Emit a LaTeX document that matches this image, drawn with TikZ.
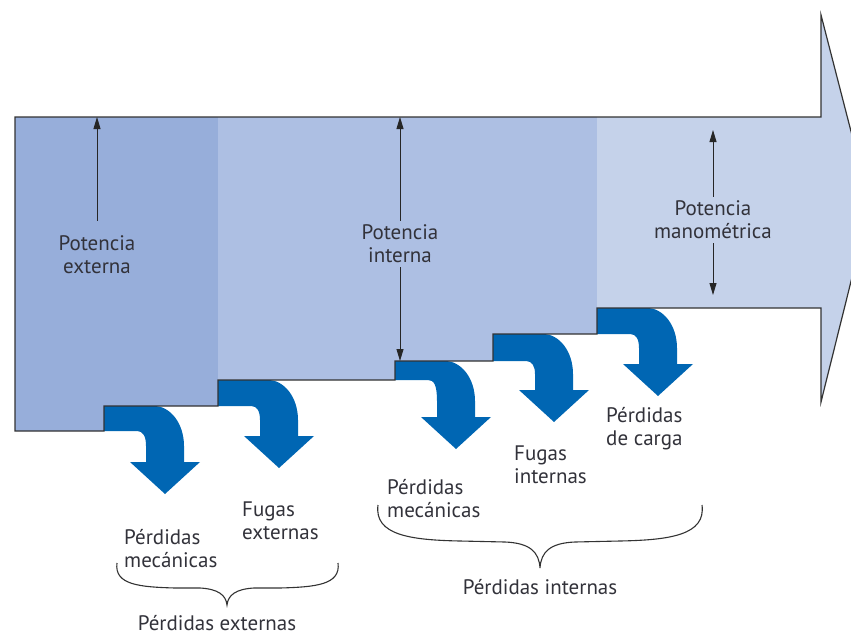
\documentclass[tikz,border=0pt]{standalone}
\usepackage{fontspec}
\setmainfont{PT Sans}
\usetikzlibrary{arrows.meta,positioning,calc}
\definecolor{extblue}{RGB}{151,174,218}
\definecolor{intblue}{RGB}{173,191,227}
\definecolor{manblue}{RGB}{197,210,234}
\definecolor{lossblue}{RGB}{0,102,179}
\definecolor{txtgray}{RGB}{50,50,58}

\begin{document}
\begin{tikzpicture}[
    x=1pt, y=-1pt,
    every node/.style={font=\fontsize{21}{23}\selectfont, text=txtgray, inner sep=1pt},
    lbl/.style={align=center},
    lbll/.style={align=left, anchor=west},
    body/.style={draw=black!80, line width=1.2pt, line join=miter},
    pow/.style={draw=black!85, line width=0.9pt, -{Triangle[width=7pt,length=12pt]}},
    brc/.style={draw=black!80, line width=1.1pt},
    pics/loss/.style={code={
        \fill[lossblue] (0,0) -- (50,0) .. controls (66,0) and (80,17) .. (80,40) -- (80,56)
            -- (96,56) -- (61,88) -- (26,56) -- (42,56) -- (42,40)
            .. controls (42,{#1+5}) and (39,#1) .. (33,#1) -- (0,#1) -- cycle;
    }}
]
\useasboundingbox (0,0) rectangle (851,637);
\clip (0,0) rectangle (851,637);

% power flow
\fill[extblue] (15,117) -- (218,117) -- (218,406) -- (104,406) -- (104,431) -- (15,431) -- cycle;
\fill[intblue] (218,117) -- (597,117) -- (597,334) -- (493,334) -- (493,361) -- (395,361)
    -- (395,380) -- (218,380) -- cycle;
\fill[manblue] (597,117) -- (821,117) -- (821,15) -- (870,205) -- (821,402) -- (821,308)
    -- (597,308) -- cycle;

% losses
\pic at (104,406) {loss=25};
\pic at (218,380) {loss=26};
\pic at (395,361) {loss=19};
\pic at (493,334) {loss=27};
\pic at (597,308) {loss=26};

\draw[body] (15,117) -- (821,117) -- (821,15) -- (870,205) -- (821,402) -- (821,308)
    -- (597,308) -- (597,334) -- (493,334) -- (493,361) -- (395,361) -- (395,380)
    -- (218,380) -- (218,406) -- (104,406) -- (104,431) -- (15,431) -- cycle;

\coordinate (exttop) at (97,117);
\coordinate (inttop) at (400,117);
\coordinate (intbot) at (400,361);
\coordinate (mantop) at (713,130);
\coordinate (manbot) at (713,295);

\node[lbl] (pext) at (97,255) {Potencia\\externa};
\node[lbl] (pint) at (400,244) {Potencia\\interna};
\node[lbl] (pman) at (713,220) {Potencia\\manométrica};

\draw[pow] ([yshift=14pt]pext.north) -- (exttop);
\draw[pow] ([yshift=3pt]pint.north) -- (inttop);
\draw[pow] ([yshift=-3pt]pint.south) -- (intbot);
\draw[pow] ([yshift=3pt]pman.north) -- (mantop);
\draw[pow] ([yshift=-3pt]pman.south) -- (manbot);

\node[lbll] (carga) at (605,429) {Pérdidas\\de carga};
\node[lbll] (fint) at (513,465) {Fugas\\internas};
\node[lbll] (mint) at (386,499) {Pérdidas\\mecánicas};
\node[lbll] (fext) at (241,521) {Fugas\\externas};
\node[lbll] (mext) at (123,549) {Pérdidas\\mecánicas};

% braces
\draw[brc] (378,505) .. controls (374,535) and (410,540) .. (460,541) -- (505,542)
    .. controls (530,543) and (539,552) .. (540,568) .. controls (541,552) and (550,543) .. (575,542)
    -- (620,541) .. controls (670,540) and (706,535) .. (702,505);
\draw[brc] (117,563) .. controls (114,585) and (140,587) .. (175,588) -- (200,588)
    .. controls (218,589) and (226,595) .. (227,605) .. controls (228,595) and (236,589) .. (254,588)
    -- (280,588) .. controls (315,587) and (341,585) .. (338,563);

\node (pint2) at (540,587) {Pérdidas internas};
\node (pext2) at (217,623) {Pérdidas externas};

\end{tikzpicture}
\end{document}
